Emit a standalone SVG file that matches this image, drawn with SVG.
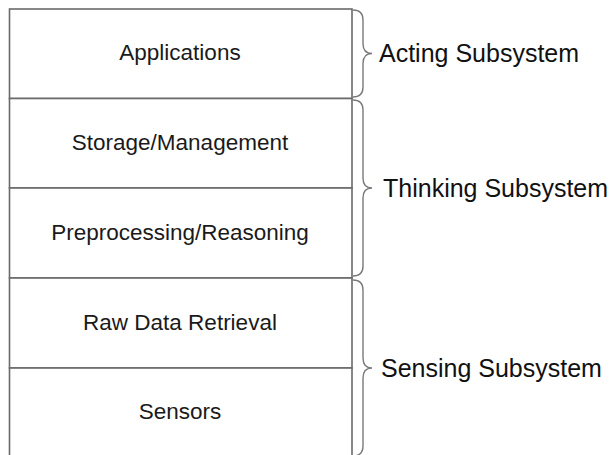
<svg xmlns="http://www.w3.org/2000/svg" width="610" height="455" viewBox="0 0 610 455">
  <style>
    .layer { fill: #ffffff; stroke: #6a6a6a; stroke-width: 1.6; }
    .layer-text { font-family: "Liberation Sans", Arial, sans-serif; font-size: 22.5px; fill: #1a1a1a; text-anchor: middle; }
    .brace { fill: none; stroke: #7a7a7a; stroke-width: 1.4; }
    .brace-text { font-family: "Liberation Sans", Arial, sans-serif; font-size: 25px; fill: #111111; }
  </style>
  <rect width="610" height="455" fill="#ffffff"/>

  <!-- layer stack -->
  <g id="applications">
    <rect class="layer" x="9.5" y="9" width="342.5" height="89.5"/>
    <text class="layer-text" x="180" y="60">Applications</text>
  </g>
  <g id="storage-management">
    <rect class="layer" x="9.5" y="98.5" width="342.5" height="89.5"/>
    <text class="layer-text" x="180" y="150">Storage/Management</text>
  </g>
  <g id="preprocessing-reasoning">
    <rect class="layer" x="9.5" y="188" width="342.5" height="90"/>
    <text class="layer-text" x="180" y="240">Preprocessing/Reasoning</text>
  </g>
  <g id="raw-data-retrieval">
    <rect class="layer" x="9.5" y="278" width="342.5" height="90"/>
    <text class="layer-text" x="180" y="330">Raw Data Retrieval</text>
  </g>
  <g id="sensors">
    <rect class="layer" x="9.5" y="368" width="342.5" height="100"/>
    <text class="layer-text" x="180" y="419">Sensors</text>
  </g>

  <!-- subsystem braces -->
  <g id="braces">
    <path class="brace" d="M353 10 Q363 10 363 20 L363 43.5 Q363 53.5 372 53.5 Q363 53.5 363 63.5 L363 87 Q363 97 353 97"/>
    <path class="brace" d="M353 100 Q363 100 363 110 L363 178 Q363 188 372 188 Q363 188 363 198 L363 266 Q363 276 353 276"/>
    <path class="brace" d="M353 280 Q363 280 363 290 L363 358 Q363 368 372 368 Q363 368 363 378 L363 446 Q363 456 353 456"/>
  </g>

  <g id="acting-subsystem">
    <text class="brace-text" x="379" y="62">Acting Subsystem</text>
  </g>
  <g id="thinking-subsystem">
    <text class="brace-text" x="383" y="197">Thinking Subsystem</text>
  </g>
  <g id="sensing-subsystem">
    <text class="brace-text" x="381" y="377">Sensing Subsystem</text>
  </g>
</svg>
